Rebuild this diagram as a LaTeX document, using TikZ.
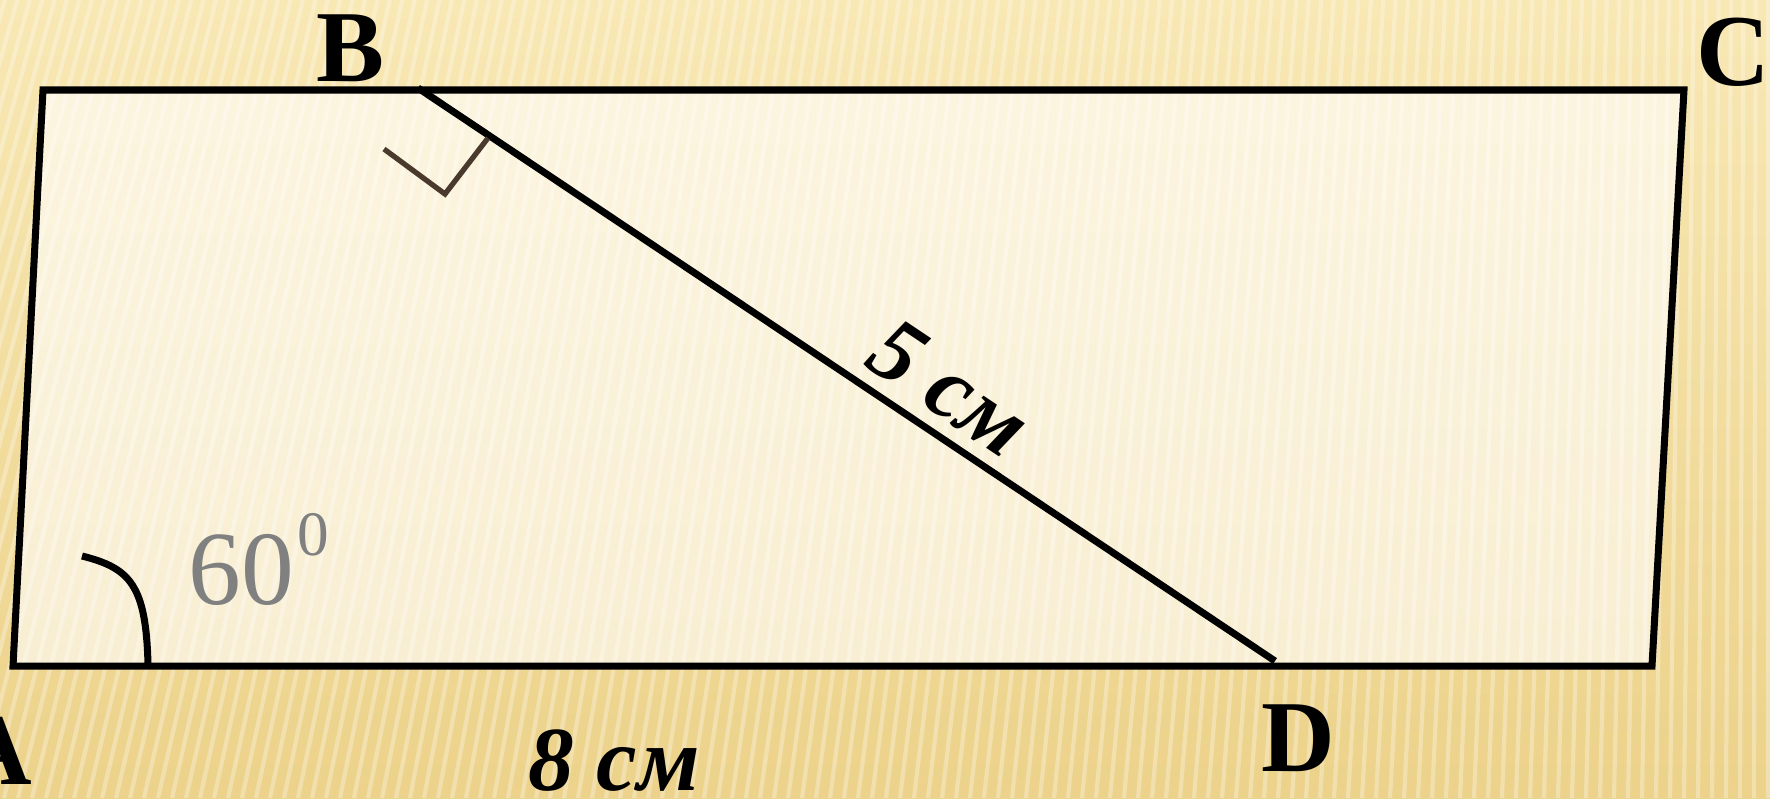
\documentclass[tikz,border=0pt]{standalone}
\usepackage{fontspec}
\setmainfont{Liberation Serif}
\usepackage{xcolor}
\definecolor{bgtop}{RGB}{248,232,180}
\definecolor{bgbot}{RGB}{236,210,138}
\definecolor{rtmark}{RGB}{74,58,46}
\begin{document}
\begin{tikzpicture}[x=0.1mm,y=-0.1mm]
    \tikzset{
      side/.style={line width=2pt,line join=miter},
      lbl/.style={font=\fontsize{29}{29}\selectfont\bfseries,inner sep=0pt,anchor=base},
      len/.style={font=\fontsize{26}{26}\selectfont\bfseries\itshape,inner sep=0pt},
      stripe/.style={white,opacity=0.3,line width=1.2pt}}
    \useasboundingbox (0,0) rectangle (1770,798);
    \shade[top color=bgtop,bottom color=bgbot] (0,0) rectangle (1770,798);
    \foreach \x in {-220,-206,...,1770} \draw[stripe] (\x,798) -- ({\x+200*(1-\x/1770)},0);
    \coordinate (pa) at (13,666);
    \coordinate (ptl) at (43,90);
    \coordinate (pc) at (1684,90);
    \coordinate (pbr) at (1652,666);
    \coordinate (pb) at (418,88);
    \coordinate (pd) at (1275,661);
    \fill[white,opacity=0.6] (pa) -- (ptl) -- (pc) -- (pbr) -- cycle;
    \draw[side] (pa) -- (ptl) -- (pc) -- (pbr) -- cycle;
    \draw[side] (pb) -- (pd);
    \draw[rtmark,line width=1.5pt] (384,149) -- (445,194) -- (488,138);
    \draw[side] (82,556) .. controls (130,568) and (146,585) .. (148,664);
    \node[lbl] (la) at (-5,784) {A};
    \node[lbl] (lb) at (350,81) {B};
    \node[lbl] (lc) at (1733,85) {C};
    \node[lbl] (ld) at (1298,771) {D};
    \node[len,anchor=base] (lad) at (614,790) {8 см};
    \node[len,rotate=-33.8] (lbd) at (950,388) {5 см};
    \node[gray,inner sep=0pt,anchor=base,font=\fontsize{30}{30}\selectfont] (ang) at (259,604)
      {60\hspace{0.3mm}\raisebox{13.9pt}{\fontsize{18}{18}\selectfont 0}};
  \end{tikzpicture}
\end{document}
